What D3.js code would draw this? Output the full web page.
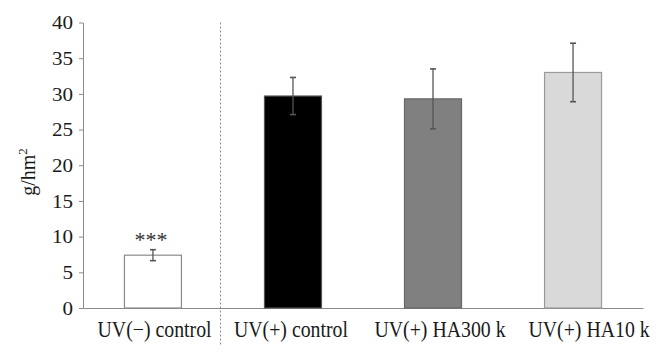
<!DOCTYPE html>
<html>
<head>
<meta charset="utf-8">
<script src="https://cdn.jsdelivr.net/npm/d3@7"></script>
<style>
html,body{margin:0;padding:0;background:#fff;}
svg text{font-family:"Liberation Serif","Times New Roman",serif;}
</style>
</head>
<body>
<svg id="chart" width="668" height="357"></svg>
<script>
const categories = ["UV(\u2212) control", "UV(+) control", "UV(+) HA300 k", "UV(+) HA10 k"];
const values = [7.4, 29.7, 29.3, 33.0];
const errors = [0.77, 2.6, 4.2, 4.1];
const fills = ["#ffffff", "#000000", "#808080", "#d9d9d9"];
const strokes = ["#8a8a8a", "#555555", "#666666", "#9a9a9a"];
const yTicks = [0, 5, 10, 15, 20, 25, 30, 35, 40];
const significance = ["***", "", "", ""];

(function () {
const svg = d3.select("#chart");
const mLeft = 83, mRight = 643, mTop = 22.5, mBottom = 308;
const labelShift = [1.6, -2, 7, 16];

const x = d3.scaleBand().domain(categories).range([mLeft, mRight]).paddingInner(0.593).paddingOuter(0.296);
const y = d3.scaleLinear().domain([0, 40]).range([mBottom, mTop]);

function stretchText(sel, k) {
  sel.each(function () {
    const w = this.getComputedTextLength();
    d3.select(this).attr("textLength", w * k).attr("lengthAdjust", "spacingAndGlyphs");
  });
}

// y axis
const yAxis = svg.append("g").attr("transform", `translate(${mLeft},0)`)
  .call(d3.axisLeft(y).tickValues(yTicks).tickSize(4).tickPadding(6).tickSizeOuter(0));
yAxis.select(".domain").attr("stroke", "#8a8a8a");
yAxis.selectAll(".tick line").attr("stroke", "#8a8a8a");
yAxis.selectAll(".tick text").attr("font-family", "Liberation Serif").attr("font-size", 18).attr("fill", "#1a1a1a").attr("dy", "0.34em");
yAxis.selectAll(".tick text").call(stretchText, 1.17);

// x axis
const xAxis = svg.append("g").attr("transform", `translate(0,${mBottom})`)
  .call(d3.axisBottom(x).tickSize(0).tickPadding(14).tickSizeOuter(0));
xAxis.select(".domain").attr("stroke", "#8a8a8a");
xAxis.selectAll(".tick text").attr("font-family", "Liberation Serif").attr("font-size", 22.5).attr("fill", "#1a1a1a")
  .attr("dx", (d, i) => labelShift[i]).attr("y", 29).attr("dy", 0);
xAxis.selectAll(".tick text").call(stretchText, 0.88);

// dashed separator
const sepX = x(categories[1]) - (x.step() - x.bandwidth()) / 2 - 2.5;
svg.append("line").attr("x1", sepX).attr("x2", sepX).attr("y1", y(40)).attr("y2", 346)
  .attr("stroke", "#8a8a8a").attr("stroke-width", 1).attr("stroke-dasharray", "2,2");

// bars
svg.append("g").selectAll("rect").data(categories).join("rect")
  .attr("x", d => x(d)).attr("width", x.bandwidth())
  .attr("y", (d, i) => y(values[i])).attr("height", (d, i) => y(0) - y(values[i]))
  .attr("fill", (d, i) => fills[i]).attr("stroke", (d, i) => strokes[i]).attr("stroke-width", 1.2);

// error bars
const eg = svg.append("g").attr("stroke", "#555").attr("stroke-width", 1.3);
categories.forEach((c, i) => {
  const cx = x(c) + x.bandwidth() / 2;
  eg.append("line").attr("x1", cx).attr("x2", cx).attr("y1", y(values[i] + errors[i])).attr("y2", y(values[i] - errors[i]));
  [values[i] + errors[i], values[i] - errors[i]].forEach(v => {
    eg.append("line").attr("x1", cx - 3).attr("x2", cx + 3).attr("y1", y(v)).attr("y2", y(v)).attr("stroke-width", 1.6);
  });
});

// significance
svg.append("g").selectAll("text").data(categories).join("text")
  .attr("x", d => x(d) + x.bandwidth() / 2 - 2)
  .attr("y", (d, i) => y(values[i] + errors[i]) - 3)
  .attr("text-anchor", "middle").attr("font-size", 20).attr("fill", "#333")
  .text((d, i) => significance[i])
  .call(stretchText, 1.1);

// y label
svg.append("text").attr("transform", "translate(35,172) rotate(-90)")
  .attr("text-anchor", "middle").attr("font-size", 20).attr("fill", "#1a1a1a")
  .call(t => { t.append("tspan").text("g/hm"); t.append("tspan").attr("dy", -8).attr("font-size", 13).text("2"); });
})();
</script>
</body>
</html>
